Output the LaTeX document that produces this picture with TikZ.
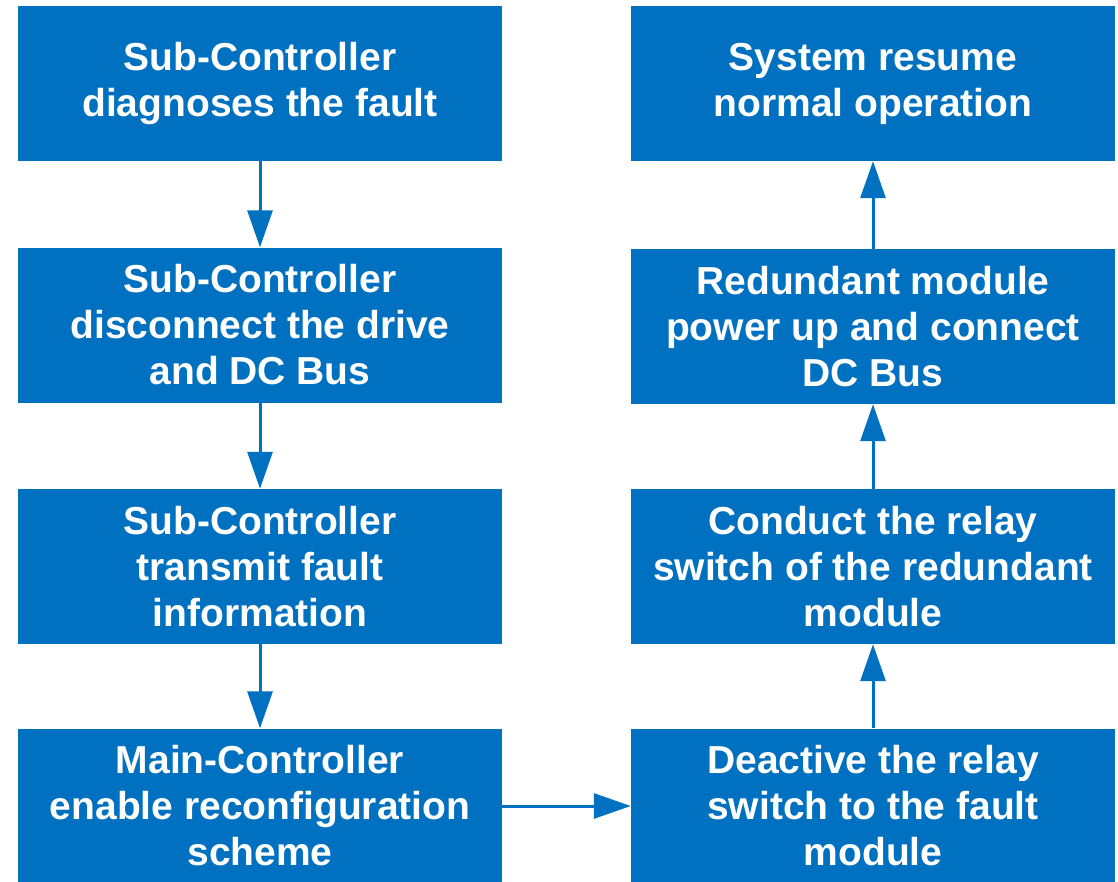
\documentclass[tikz,border=0pt]{standalone}
\usepackage{fontspec}
\setmainfont{Liberation Sans}
\usetikzlibrary{arrows.meta}
\definecolor{flowblue}{RGB}{0,112,192}
\begin{document}
\begin{tikzpicture}[x=1pt,y=-1pt,
  stepbox/.style={fill=flowblue, draw=none, minimum width=484pt, minimum height=155pt,
    text=white, align=center, inner sep=0pt,
    font=\fontsize{39}{46}\selectfont\bfseries},
  flow/.style={draw=flowblue, line width=3pt,
    -{Triangle[length=37pt,width=25pt]}, shorten <=0pt, shorten >=0pt}]
  \useasboundingbox (0,0) rectangle (1118,881);
  \begin{scope}
  \clip (0,0) rectangle (1118,881);
  % left column
  \node[stepbox] (l1) at (260,83.5) {Sub-Controller\\diagnoses the fault};
  \node[stepbox] (l2) at (260,325) {Sub-Controller\\disconnect the drive\\and DC Bus};
  \node[stepbox] (l3) at (260,566.5) {Sub-Controller\\transmit fault\\information};
  \node[stepbox] (l4) at (260,806) {Main-Controller\\enable reconfiguration\\scheme};
  % right column
  \node[stepbox] (r1) at (873,83.5) {System resume\\normal operation};
  \node[stepbox] (r2) at (873,326.5) {Redundant module\\power up and connect\\DC Bus};
  \node[stepbox] (r3) at (873,566.5) {Conduct the relay\\switch of the redundant\\module};
  \node[stepbox] (r4) at (873,806) {Deactive the relay\\switch to the fault\\module};
  % connectors
  \draw[flow] (l1.south) -- (l2.north);
  \draw[flow] (l2.south) -- (l3.north);
  \draw[flow] (l3.south) -- (l4.north);
  \draw[flow] (l4.east) -- (r4.west);
  \draw[flow] (r4.north) -- (r3.south);
  \draw[flow] (r3.north) -- (r2.south);
  \draw[flow] (r2.north) -- (r1.south);
  \end{scope}
\end{tikzpicture}
\end{document}
